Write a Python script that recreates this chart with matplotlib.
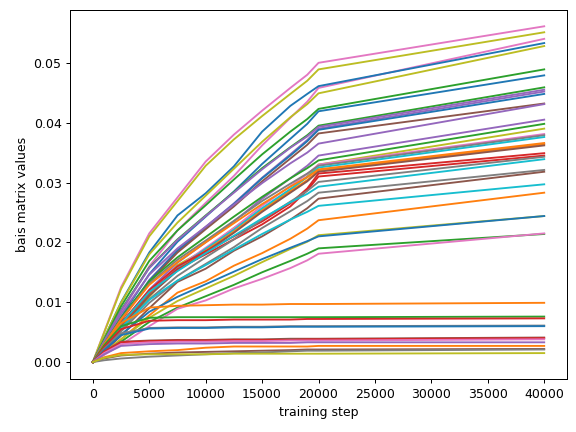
import matplotlib
matplotlib.use("Agg")
import matplotlib.pyplot as plt

# training steps at which values were read
steps = [0, 1000, 2500, 5000, 7500, 10000, 12500, 15000, 17500, 19000, 20000, 40000]

# bias values per parameter (one row per line)
values = [
    [0, .0050, .0125, .0215, .0275, .0335, .0380, .0420, .0458, .0480, .0500, .0561],
    [0, .0049, .0122, .0210, .0269, .0328, .0372, .0411, .0448, .0470, .0489, .0551],
    [0, .0032, .0082, .0160, .0220, .0266, .0311, .0362, .0408, .0435, .0458, .0540],
    [0, .0040, .0100, .0183, .0245, .0282, .0327, .0385, .0428, .0448, .0461, .0533],
    [0, .0040, .0099, .0180, .0233, .0278, .0323, .0368, .0409, .0431, .0449, .0528],
    [0, .0038, .0093, .0169, .0220, .0262, .0305, .0347, .0385, .0406, .0423, .0489],
    [0, .0029, .0075, .0147, .0201, .0243, .0285, .0331, .0373, .0398, .0419, .0479],
    [0, .0036, .0087, .0158, .0205, .0245, .0284, .0324, .0359, .0379, .0395, .0459],
    [0, .0035, .0086, .0157, .0204, .0244, .0283, .0322, .0358, .0377, .0393, .0455],
    [0, .0027, .0070, .0137, .0187, .0226, .0265, .0308, .0347, .0371, .0390, .0452],
    [0, .0027, .0070, .0136, .0186, .0225, .0264, .0307, .0345, .0369, .0388, .0448],
    [0, .0027, .0069, .0134, .0183, .0222, .0260, .0302, .0340, .0363, .0382, .0432],
    [0, .0033, .0080, .0146, .0190, .0226, .0263, .0299, .0332, .0350, .0365, .0431],
    [0, .0024, .0062, .0121, .0166, .0200, .0235, .0273, .0307, .0328, .0345, .0405],
    [0, .0030, .0074, .0135, .0175, .0209, .0243, .0276, .0307, .0324, .0337, .0398],
    [0, .0022, .0053, .0109, .0162, .0188, .0224, .0254, .0287, .0310, .0330, .0390],
    [0, .0023, .0059, .0116, .0158, .0191, .0224, .0261, .0294, .0314, .0330, .0381],
    [0, .0030, .0072, .0131, .0171, .0203, .0236, .0269, .0298, .0315, .0328, .0379],
    [0, .0023, .0059, .0114, .0156, .0189, .0221, .0257, .0289, .0309, .0325, .0376],
    [0, .0029, .0071, .0129, .0167, .0200, .0232, .0264, .0293, .0309, .0322, .0366],
    [0, .0022, .0058, .0112, .0154, .0186, .0218, .0253, .0285, .0304, .0320, .0364],
    [0, .0022, .0057, .0111, .0153, .0184, .0216, .0251, .0283, .0302, .0318, .0362],
    [0, .0025, .0065, .0120, .0160, .0185, .0210, .0235, .0265, .0290, .0315, .0349],
    [0, .0024, .0062, .0116, .0155, .0180, .0205, .0230, .0260, .0287, .0310, .0345],
    [0, .0021, .0054, .0105, .0144, .0175, .0205, .0238, .0268, .0286, .0301, .0343],
    [0, .0026, .0064, .0117, .0152, .0182, .0211, .0240, .0267, .0281, .0293, .0339],
    [0, .0020, .0051, .0099, .0136, .0164, .0192, .0224, .0252, .0269, .0283, .0321],
    [0, .0018, .0044, .0090, .0134, .0156, .0186, .0210, .0238, .0257, .0273, .0318],
    [0, .0023, .0057, .0104, .0136, .0162, .0188, .0214, .0238, .0251, .0261, .0297],
    [0, .0016, .0038, .0078, .0116, .0135, .0161, .0182, .0206, .0223, .0237, .0283],
    [0, .0015, .0038, .0074, .0102, .0123, .0144, .0167, .0189, .0201, .0212, .0244],
    [0, .0019, .0046, .0084, .0109, .0130, .0151, .0172, .0191, .0202, .0210, .0244],
    [0, .0013, .0034, .0067, .0091, .0110, .0129, .0150, .0169, .0181, .0190, .0214],
    [0, .0012, .0029, .0060, .0089, .0103, .0123, .0139, .0157, .0170, .0181, .0215],
    [0, .0030, .0065, .0091, .0094, .0095, .0096, .0096, .0097, .0097, .0097, .0099],
    [0, .0028, .0060, .0074, .0075, .0075, .0075, .0075, .0075, .0075, .0075, .0076],
    [0, .0025, .0055, .0069, .0070, .0070, .0071, .0071, .0071, .0072, .0072, .0073],
    [0, .0022, .0048, .0057, .0058, .0058, .0059, .0059, .0060, .0060, .0060, .0061],
    [0, .0020, .0045, .0056, .0057, .0057, .0058, .0058, .0059, .0059, .0059, .0060],
    [0, .0018, .0034, .0036, .0037, .0037, .0038, .0038, .0039, .0039, .0039, .0041],
    [0, .0017, .0033, .0035, .0036, .0036, .0037, .0037, .0037, .0038, .0038, .0040],
    [0, .0015, .0030, .0033, .0034, .0034, .0035, .0035, .0036, .0036, .0036, .0038],
    [0, .0013, .0027, .0030, .0031, .0031, .0032, .0032, .0032, .0033, .0033, .0033],
    [0, .0008, .0015, .0018, .0020, .0024, .0026, .0026, .0026, .0026, .0027, .0027],
    [0, .0006, .0011, .0014, .0016, .0017, .0018, .0019, .0020, .0021, .0021, .0022],
    [0, .0003, .0006, .0009, .0011, .0013, .0015, .0016, .0018, .0019, .0019, .0021],
    [0, .0007, .0012, .0013, .0013, .0013, .0014, .0014, .0014, .0014, .0014, .0015],
]

line_colors = [
    "C6", "C8", "C6", "C0", "C8", "C2", "C0", "C2", "C4", "C4",
    "C0", "C5", "C4", "C4", "C2", "C8", "C6", "C7", "C9", "C1",
    "C1", "C5", "C3", "C3", "C7", "C9", "C7", "C5", "C9", "C1",
    "C8", "C0", "C2", "C6", "C1", "C2", "C3", "C7", "C0", "C5",
    "C3", "C6", "C4", "C1", "C5", "C7", "C8",
]

fig, ax = plt.subplots(figsize=(6.4, 4.8), dpi=90)
fig.subplots_adjust(left=0.122, right=0.984, top=0.978, bottom=0.123)
for row, col in zip(values, line_colors):
    ax.plot(steps, row, color=col, linewidth=1.5)

ax.set_xlabel("training step")
ax.set_ylabel("bais matrix values")
fig.savefig("out.png", dpi=90)
